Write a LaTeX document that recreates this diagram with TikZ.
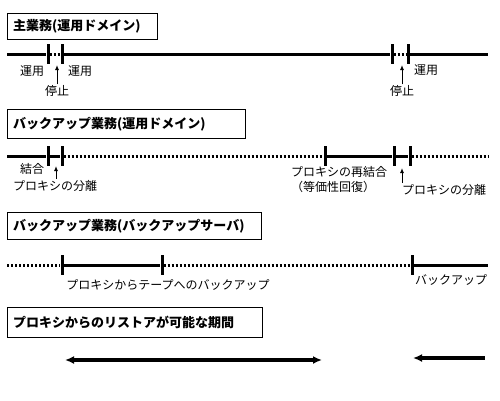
\documentclass[tikz,border=0pt]{standalone}
\usepackage{fontspec}
\setmainfont{Noto Sans CJK JP}
\usetikzlibrary{calc,positioning,arrows.meta}

\begin{document}
\begin{tikzpicture}
[x=1pt, y=-1pt,
title/.style={draw=black, rectangle, anchor=north west, inner xsep=6pt,
align=left, font=\fontsize{13}{15}\selectfont\bfseries},
label/.style={inner sep=1pt, font=\fontsize{12}{15}\selectfont},
tick/.style={fill=black, inner sep=0pt, minimum width=3pt, minimum height=20pt},
run/.style={line width=3pt},
idle/.style={line width=3pt, dash pattern=on 2pt off 2pt},
mark arrow/.style={-{Latex[length=5pt,width=4pt]}, line width=1pt},
period/.style={line width=3.5pt, {Latex[length=9pt,width=8pt]}-{Latex[length=9pt,width=8pt]}}]

\useasboundingbox (0,0) rectangle (500,400);

% Title boxes
\node [title, text width=138pt, minimum height=26pt] (main) at (7,13) {主業務(運用ドメイン)};
\node [title, text width=226pt, minimum height=29pt] (bkops) at (7,109) {バックアップ業務(運用ドメイン)};
\node [title, text width=242pt, minimum height=27pt] (bksrv) at (7,212) {バックアップ業務(バックアップサーバ)};
\node [title, text width=243pt, minimum height=30pt] (restore) at (7,307) {プロキシからのリストアが可能な期間};

% Main service
\coordinate (m0) at (7,54);
\coordinate (m9) at (488,54);
\node [tick] (m1) at (48,54) {};
\node [tick] (m2) at (62,54) {};
\node [tick] (m3) at (392,54) {};
\node [tick] (m4) at (408,54) {};
\draw [run] (m0) -- (m1);
\draw [idle] (m1) -- (m2);
\draw [run] (m2) -- (m3);
\draw [idle] (m3) -- (m4);
\draw [run] (m4) -- (m9);

\node [label] (op1) at (32,71) {運用};
\node [label] (op2) at (80,71) {運用};
\node [label] (stop1) at (57,91) {停止};
\coordinate (stop1tip) at (57,65);
\draw [mark arrow] (stop1) -- (stop1tip);
\node [label] (op3) at (426,70) {運用};
\node [label] (stop2) at (402,91) {停止};
\coordinate (stop2tip) at (402,65);
\draw [mark arrow] (stop2) -- (stop2tip);

% Backup service (operation domain)
\coordinate (b0) at (7,156);
\coordinate (b9) at (488,156);
\node [tick] (b1) at (48,156) {};
\node [tick] (b2) at (62,156) {};
\node [tick] (b3) at (325,156) {};
\node [tick] (b4) at (394,156) {};
\node [tick] (b5) at (410,156) {};
\draw [run] (b0) -- (b1);
\draw [run] (b1) -- (b2);
\draw [idle] (b2) -- (b3);
\draw [run] (b3) -- (b4);
\draw [run] (b4) -- (b5);
\draw [idle] (b5) -- (b9);

\node [label] (join) at (32,169) {結合};
\node [label] (split1) at (55,186) {プロキシの分離};
\coordinate (split1tip) at (56,166);
\coordinate (split1foot) at (56,179);
\draw [mark arrow] (split1foot) -- (split1tip);
\node [label, align=left, anchor=west] (rejoin) at (290,180) {プロキシの再結合\\（等価性回復）};
\node [label] (split2) at (444,190) {プロキシの分離};
\coordinate (split2tip) at (402,168);
\coordinate (split2foot) at (402,183);
\draw [mark arrow] (split2foot) -- (split2tip);

% Backup service (backup server)
\coordinate (s0) at (7,265);
\coordinate (s9) at (488,265);
\node [tick] (s1) at (62,265) {};
\node [tick] (s2) at (162,265) {};
\node [tick] (s3) at (412,265) {};
\draw [idle] (s0) -- (s1);
\draw [run] (s1) -- (s2);
\draw [idle] (s2) -- (s3);
\draw [run] (s3) -- (s9);

\node [label] (tape) at (168,285) {プロキシからテープへのバックアップ};
\node [label] (backup) at (451,280) {バックアップ};

% Restore periods
\coordinate (r1) at (65,360);
\coordinate (r2) at (322,360);
\coordinate (r3) at (485,358);
\coordinate (r4) at (413,358);
\draw [period] (r1) -- (r2);
\draw [period, {Latex[length=9pt,width=8pt]}-] (r4) -- (r3);

\end{tikzpicture}
\end{document}
